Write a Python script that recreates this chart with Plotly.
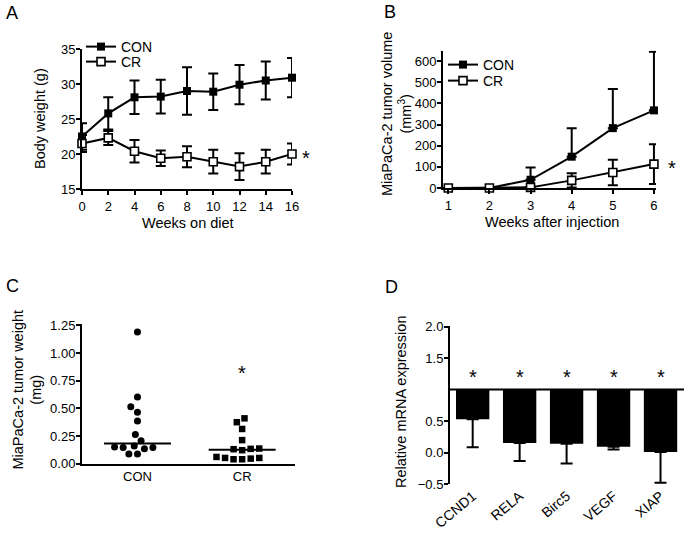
import numpy as np
import plotly.graph_objects as go

W, H = 688, 533

# ---------------- data ----------------
# Panel A: body weight
weeks_diet = [0, 2, 4, 6, 8, 10, 12, 14, 16]
bw_con = [22.5, 25.8, 28.1, 28.2, 29.0, 28.9, 29.9, 30.5, 30.9]
bw_con_err = [1.9, 2.3, 2.4, 2.4, 3.4, 2.6, 2.8, 2.7, 2.8]
bw_cr = [21.5, 22.3, 20.4, 19.4, 19.6, 18.9, 18.2, 18.9, 20.0]
bw_cr_err = [1.2, 1.0, 1.6, 1.1, 1.5, 1.7, 1.9, 1.7, 1.5]

# Panel B: tumor volume
weeks_inj = [1, 2, 3, 4, 5, 6]
vol_con = [0, 0, 39, 148, 283, 367]
vol_con_err = [0, 0, 58, 135, 185, 277]
vol_cr = [0, 0, 3, 36, 73, 113]
vol_cr_err = [0, 0, 3, 34, 60, 94]

# Panel C: tumor weight
groups = ["CON", "CR"]
wt_con = [1.19, 0.604, 0.515, 0.466, 0.387, 0.265, 0.207, 0.16, 0.146, 0.134,
          0.146, 0.152, 0.088, 0.088]
wt_cr = [0.41, 0.375, 0.314, 0.213, 0.137, 0.122, 0.131, 0.134, 0.052, 0.046,
         0.04, 0.04, 0.052, 0.061]

# Panel D: relative mRNA expression
genes = ["CCND1", "RELA", "Birc5", "VEGF", "XIAP"]
expr = [0.53, 0.15, 0.14, 0.09, 0.01]
expr_err = [0.445, 0.284, 0.316, 0.042, 0.49]
BASE = 1.0

# ---------------- layout helpers ----------------
FONT = "Arial, 'Liberation Sans', sans-serif"
TICK = 13
TITLE = 14.5
STAR = 20


def fx(p):
    return p / W


def fy(p):
    return 1 - p / H


# pixel boxes of the four plot areas (left, right, top, bottom)
boxA = (82, 292, 49, 189)
boxB = (443, 656, 50.7, 188)
boxC = (82, 295, 324.3, 463.7)
boxD = (450, 684, 326, 484.3)

rangeA_x, rangeA_y = [0, 16], [15, 35]
rangeB_x, rangeB_y = [0.871, 6.05], [0, 649]
rangeC_x, rangeC_y = [-0.53, 1.505], [0, 1.26]
rangeD_x, rangeD_y = [-0.483, 4.5], [-0.505, 2.01]


def swarm(values, px_per_x, px_per_y, d_px):
    placed = []
    offs = [0.0] * len(values)
    for i in np.argsort(values, kind="stable"):
        y = values[i] * px_per_y
        cands = [0.0]
        for xp, yp in placed:
            dy = abs(y - yp)
            if dy < d_px:
                dx = (d_px ** 2 - dy ** 2) ** 0.5
                cands += [xp + dx, xp - dx]
        cands.sort(key=lambda c: (round(abs(c), 6), c))
        for c in cands:
            if all((c - xp) ** 2 + (y - yp) ** 2 >= d_px ** 2 - 1e-6 for xp, yp in placed):
                break
        placed.append((c, y))
        offs[i] = c / px_per_x
    return offs


pxx_C = (boxC[1] - boxC[0]) / (rangeC_x[1] - rangeC_x[0])
pxy_C = (boxC[3] - boxC[2]) / (rangeC_y[1] - rangeC_y[0])

fig = go.Figure()

err_style = dict(type="data", thickness=2, width=5, color="black")

# ---------------- Panel A ----------------
fig.add_trace(go.Scatter(
    x=weeks_diet, y=bw_con, name="CON", mode="lines+markers",
    line=dict(color="black", width=2),
    marker=dict(symbol="square", size=8, color="black"),
    error_y=dict(array=bw_con_err, **err_style),
    xaxis="x", yaxis="y", legend="legend", cliponaxis=False))
fig.add_trace(go.Scatter(
    x=weeks_diet, y=bw_cr, name="CR", mode="lines+markers",
    line=dict(color="black", width=2),
    marker=dict(symbol="square", size=8, color="white", line=dict(color="black", width=1.6)),
    error_y=dict(array=bw_cr_err, **err_style),
    xaxis="x", yaxis="y", legend="legend2", cliponaxis=False))

# ---------------- Panel B ----------------
fig.add_trace(go.Scatter(
    x=weeks_inj, y=vol_con, name="CON", mode="lines+markers",
    line=dict(color="black", width=2),
    marker=dict(symbol="square", size=8, color="black"),
    error_y=dict(symmetric=False, array=vol_con_err, arrayminus=[0] * len(vol_con), **err_style),
    xaxis="x2", yaxis="y2", legend="legend3", cliponaxis=False))
fig.add_trace(go.Scatter(
    x=weeks_inj, y=vol_cr, name="CR", mode="lines+markers",
    line=dict(color="black", width=2),
    marker=dict(symbol="square", size=8, color="white", line=dict(color="black", width=1.6)),
    error_y=dict(array=vol_cr_err, **err_style),
    xaxis="x2", yaxis="y2", legend="legend4", cliponaxis=False))

# ---------------- Panel C ----------------
for gi, (vals, sym, sz) in enumerate([(wt_con, "circle", 7), (wt_cr, "square", 6.5)]):
    offs = swarm(vals, pxx_C, pxy_C, 8.6)
    fig.add_trace(go.Scatter(
        x=[gi + o for o in offs], y=vals, mode="markers",
        marker=dict(symbol=sym, size=sz, color="black"),
        xaxis="x3", yaxis="y3", showlegend=False, cliponaxis=False))
    med = float(np.median(vals))
    fig.add_trace(go.Scatter(
        x=[gi - 0.32, gi + 0.32], y=[med, med], mode="lines",
        line=dict(color="black", width=2),
        xaxis="x3", yaxis="y3", showlegend=False, cliponaxis=False))

# ---------------- Panel D ----------------
fig.add_trace(go.Bar(
    x=genes, y=[v - BASE for v in expr], base=BASE, width=0.71,
    marker=dict(color="black", line=dict(width=0)),
    xaxis="x4", yaxis="y4", showlegend=False))
fig.add_trace(go.Scatter(
    x=genes, y=expr, mode="markers", marker=dict(size=1, opacity=0),
    error_y=dict(symmetric=False, array=[0] * len(expr), arrayminus=expr_err,
                 type="data", thickness=2, width=6, color="black"),
    xaxis="x4", yaxis="y4", showlegend=False, cliponaxis=False))

# ---------------- axes ----------------
axis_common = dict(showline=True, linewidth=2, linecolor="black", ticks="outside",
                   ticklen=4, tickwidth=2, tickcolor="black", showgrid=False,
                   zeroline=False, automargin=False,
                   tickfont=dict(size=TICK, color="black", family=FONT))
yaxis_common = {**axis_common, "ticklabelstandoff": -2}

fig.update_layout(
    xaxis=dict(domain=[fx(boxA[0]), fx(boxA[1])], range=rangeA_x, anchor="y",
               tickvals=weeks_diet, **axis_common),
    yaxis=dict(domain=[fy(boxA[3]), fy(boxA[2])], range=rangeA_y, anchor="x",
               dtick=5, **yaxis_common),
    xaxis2=dict(domain=[fx(boxB[0]), fx(boxB[1])], range=rangeB_x, anchor="y2",
                tickvals=weeks_inj, **axis_common),
    yaxis2=dict(domain=[fy(boxB[3]), fy(boxB[2])], range=rangeB_y, anchor="x2",
                dtick=100, **yaxis_common),
    xaxis3=dict(domain=[fx(boxC[0]), fx(boxC[1])], range=rangeC_x, anchor="y3",
                tickvals=[0, 1], ticktext=groups,
                **{**axis_common, "ticks": ""}),
    yaxis3=dict(domain=[fy(boxC[3]), fy(boxC[2])], range=rangeC_y, anchor="x3",
                tickvals=[0, 0.25, 0.5, 0.75, 1.0, 1.25], tickformat=".2f", **yaxis_common),
    xaxis4=dict(domain=[fx(boxD[0]), fx(boxD[1])], range=rangeD_x, anchor="y4",
                **{**axis_common, "showline": False, "ticks": "", "tickangle": -40,
                   "tickfont": dict(size=14, color="black", family=FONT)}),
    yaxis4=dict(domain=[fy(boxD[3]), fy(boxD[2])], range=rangeD_y, anchor="x4",
                tickvals=[-0.5, 0, 0.5, 1.5, 2.0], tickformat=".1f", **yaxis_common),
)

fig.add_shape(type="line", xref="x4 domain", yref="y4", x0=0, x1=1, y0=BASE, y1=BASE,
              line=dict(color="black", width=2))

# ---------------- legends (one per entry for tight spacing) ----------------
leg_common = dict(font=dict(size=14, color="black", family=FONT), bgcolor="rgba(0,0,0,0)",
                  borderwidth=0, xanchor="left", yanchor="middle", itemsizing="trace")
fig.update_layout(
    legend=dict(x=fx(81), y=fy(47), **leg_common),
    legend2=dict(x=fx(81), y=fy(62), **leg_common),
    legend3=dict(x=fx(443), y=fy(65), **leg_common),
    legend4=dict(x=fx(443), y=fy(81), **leg_common),
)

# ---------------- annotations ----------------
ann = []


def text(x, y, s, size, xref="paper", yref="paper", angle=0, xa="center", ya="middle", **kw):
    ann.append(dict(x=x, y=y, text=s, xref=xref, yref=yref, showarrow=False,
                    textangle=angle, xanchor=xa, yanchor=ya,
                    font=dict(size=size, color="black", family=FONT), **kw))


# panel letters
text(fx(4), fy(13), "A", 18, xa="left")
text(fx(382), fy(12), "B", 18, xa="left")
text(fx(4), fy(286), "C", 18, xa="left")
text(fx(383), fy(287), "D", 18, xa="left")

# axis titles
text(fx(188), fy(223), "Weeks on diet", TITLE)
text(fx(40), fy(119), "Body weight (g)", TITLE, angle=-90)
text(fx(552), fy(222), "Weeks after injection", TITLE)
text(fx(396), fy(114), "MiaPaCa-2 tumor volume<br>(mm<sup>3</sup>)", TITLE, angle=-90)
text(fx(26.5), fy(390), "MiaPaCa-2 tumor weight<br>(mg)", TITLE, angle=-90)
text(fx(401), fy(402), "Relative mRNA expression", TITLE, angle=-90)

# significance stars
text(weeks_diet[-1], bw_cr[-1], "*", STAR, xref="x", yref="y", xshift=14, yshift=-4)
text(weeks_inj[-1], vol_cr[-1], "*", STAR, xref="x2", yref="y2", xshift=18, yshift=-4)
text(1, max(wt_cr) + 0.45, "*", STAR, xref="x3", yref="y3", yshift=-4)
for g in genes:
    text(g, 1.25, "*", STAR, xref="x4", yref="y4", yshift=-3)

fig.update_layout(
    annotations=ann,
    width=W, height=H, margin=dict(l=0, r=0, t=0, b=0, autoexpand=False),
    paper_bgcolor="white", plot_bgcolor="white",
    font=dict(family=FONT, color="black"),
    showlegend=True,
)

fig.write_html("out.html", config={"displayModeBar": False},
               post_script="document.body.style.margin='0';")
